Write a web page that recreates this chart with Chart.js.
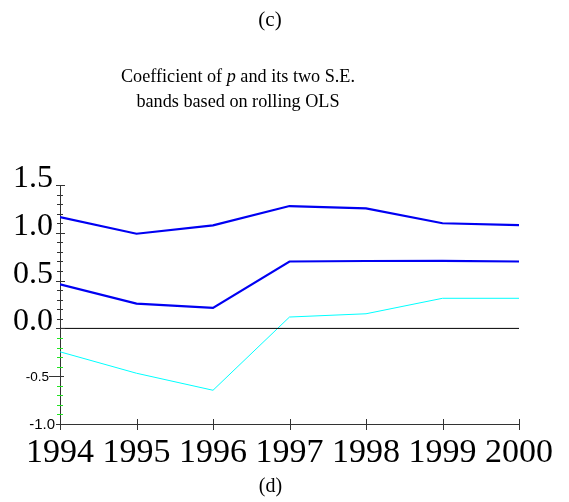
<!DOCTYPE html>
<html>
<head>
<meta charset="utf-8">
<script src="https://cdn.jsdelivr.net/npm/chart.js@4.4.1/dist/chart.umd.min.js"></script>
<style>
  html, body { margin: 0; padding: 0; background: #fff; }
  #wrap { position: relative; width: 569px; height: 502px; overflow: hidden; }
  #chart { position: absolute; left: 0; top: 0; }
  .txt { position: absolute; font-family: "Liberation Serif", "Times New Roman", serif; color: #000; white-space: nowrap; text-align: center; }
</style>
</head>
<body>
<div id="wrap">
  <canvas id="chart" width="569" height="502"></canvas>
  <div class="txt" style="left:0; width:540px; top:7px; font-size:21px; line-height:24px;">(c)</div>
  <div class="txt" style="left:0; width:476px; top:64px; font-size:18.2px; line-height:25px;">Coefficient of <i>p</i> and its two S.E.<br>bands based on rolling OLS</div>
  <div class="txt" style="left:0; width:541px; top:473px; font-size:20px; line-height:24px;">(d)</div>
</div>
<script>
// Rolling OLS estimates of the coefficient on p, with +/- two standard error bands
const years = [1994, 1995, 1996, 1997, 1998, 1999, 2000];
const upperBand = [1.165, 0.99, 1.077, 1.28, 1.255, 1.10, 1.08];
const coefficient = [0.46, 0.26, 0.215, 0.70, 0.705, 0.707, 0.70];
const lowerBand = [-0.245, -0.469, -0.647, 0.119, 0.153, 0.315, 0.315];
const zeroLine = [0, 0];
const zeroLineYears = [1994, 2000];
const yLabelValues = [1.5, 1.0, 0.5, 0.0, -0.5, -1.0];

const pts = (xs, vals) => vals.map((v, i) => ({ x: xs[i], y: v }));

// Crossing tick marks on both axes and the mixed-style y labels
const axisDecor = {
  id: 'axisDecor',
  afterDraw(chart) {
    const ctx = chart.ctx;
    const xs = chart.scales.x, ys = chart.scales.y;
    const ax = xs.getPixelForValue(years[0]);
    const ay = ys.getPixelForValue(-1);
    ctx.save();
    ctx.lineWidth = 1;
    for (let k = -10; k <= 15; k++) {
      const v = k / 10;
      const py = Math.round(ys.getPixelForValue(v)) + 0.5;
      const major = k % 5 === 0;
      ctx.strokeStyle = (!major && k < 0) ? '#22e622' : '#333';
      ctx.beginPath();
      if (k === -5) { ctx.moveTo(ax - 11, py); ctx.lineTo(ax + 4, py); }
      else if (major) { ctx.moveTo(ax - 4, py); ctx.lineTo(ax + 5, py); }
      else { ctx.moveTo(ax - 3, py); ctx.lineTo(ax + 3, py); }
      ctx.stroke();
    }
    ctx.strokeStyle = '#333';
    years.forEach((yr) => {
      const px = Math.round(xs.getPixelForValue(yr)) + 0.5;
      ctx.beginPath();
      ctx.moveTo(px, ay - 5);
      ctx.lineTo(px, ay + 6);
      ctx.stroke();
    });
    ctx.fillStyle = '#000';
    ctx.textAlign = 'right';
    yLabelValues.forEach((v) => {
      const py = ys.getPixelForValue(v);
      const txt = v.toFixed(1);
      if (v >= 0) {
        ctx.font = '32px "Liberation Serif"';
        ctx.textBaseline = 'alphabetic';
        ctx.fillText(txt, ax - 7, py + 2);
      } else if (v === -0.5) {
        ctx.font = '13.5px "Liberation Sans"';
        ctx.textBaseline = 'middle';
        ctx.fillText(txt, ax - 11, py + 1);
      } else {
        ctx.font = '15px "Liberation Sans"';
        ctx.textBaseline = 'middle';
        ctx.fillText(txt, ax - 5, py + 1);
      }
    });
    ctx.restore();
  }
};

new Chart(document.getElementById('chart'), {
  type: 'line',
  data: {
    datasets: [
      { data: pts(zeroLineYears, zeroLine), borderColor: '#000', borderWidth: 1, pointRadius: 0, tension: 0 },
      { data: pts(years, lowerBand), borderColor: '#00ffff', borderWidth: 1, pointRadius: 0, tension: 0 },
      { data: pts(years, coefficient), borderColor: '#0000f2', borderWidth: 2.2, pointRadius: 0, tension: 0 },
      { data: pts(years, upperBand), borderColor: '#0000f2', borderWidth: 2.2, pointRadius: 0, tension: 0 }
    ]
  },
  options: {
    responsive: false,
    animation: false,
    events: [],
    layout: { padding: { top: 185, right: 50, left: 0, bottom: 0 } },
    plugins: { legend: { display: false }, tooltip: { enabled: false }, title: { display: false } },
    scales: {
      x: {
        type: 'linear', min: 1994, max: 2000,
        grid: { display: false, drawTicks: false },
        border: { display: true, color: '#333', width: 1 },
        ticks: {
          stepSize: 1, padding: 8.5, color: '#000',
          font: { family: 'Liberation Serif', size: 34 },
          callback: (v) => String(v),
          maxRotation: 0, autoSkip: false
        },
        afterFit: (s) => { s.height = 78; }
      },
      y: {
        type: 'linear', min: -1, max: 1.5,
        grid: { display: false, drawTicks: false },
        border: { display: true, color: '#333', width: 1 },
        ticks: { display: false, stepSize: 0.5 },
        afterFit: (s) => { s.width = 60; }
      }
    }
  },
  plugins: [axisDecor]
});
</script>
</body>
</html>
